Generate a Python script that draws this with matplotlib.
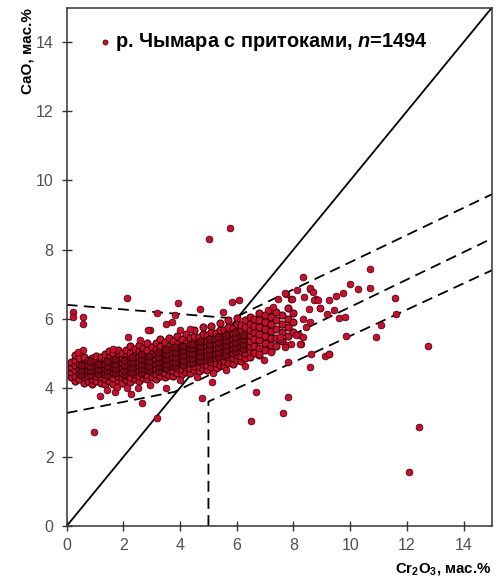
"""
Cr2O3 vs CaO in garnets, Chymara river with tributaries.
"""

import matplotlib
matplotlib.use("Agg")
import matplotlib.pyplot as plt

# =============================================================================
# Configuration
# =============================================================================
OUTPUT_FILE = "out.png"
DPI = 100
FACE = "#c8102e"
EDGE = "#3a0008"
CORE_FACE = "#7e0914"

plt.rcParams["font.family"] = ["Liberation Sans", "DejaVu Sans"]
plt.rcParams["mathtext.fontset"] = "custom"
plt.rcParams["mathtext.rm"] = "Liberation Sans:bold"
plt.rcParams["mathtext.it"] = "Liberation Sans:italic:bold"
plt.rcParams["mathtext.bf"] = "Liberation Sans:bold"

# =============================================================================
# Data
# =============================================================================
# dense cloud, one column of CaO values per Cr2O3 value
CLOUD_COL_X = [0.15, 0.3, 0.45, 0.6, 0.75, 0.9, 1.05, 1.2, 1.35, 1.5, 1.65,
               1.8, 1.95, 2.1, 2.25, 2.4, 2.55, 2.7, 2.85, 3.0, 3.15, 3.3,
               3.45, 3.6, 3.75, 3.9, 4.05, 4.2, 4.35, 4.5, 4.65, 4.8, 4.95,
               5.1, 5.25, 5.4, 5.55, 5.7, 5.85, 6.0, 6.15, 6.3, 6.45, 6.6,
               6.8, 7.0, 7.2, 7.4, 7.6, 7.8, 8.0]
CLOUD_COL_Y = [
    [4.3, 4.45, 4.6, 4.75],
    [4.2, 4.35, 4.5, 4.65, 4.8, 4.95],
    [4.25, 4.4, 4.55, 4.7, 4.85],
    [4.15, 4.3, 4.45, 4.6, 4.75, 4.9],
    [4.2, 4.35, 4.5, 4.65, 4.8],
    [4.1, 4.25, 4.4, 4.55, 4.7, 4.85],
    [4.2, 4.35, 4.5, 4.62, 4.78, 4.92],
    [4.15, 4.3, 4.45, 4.58, 4.72, 4.88],
    [4.1, 4.25, 4.4, 4.55, 4.68, 4.82, 4.98],
    [4.2, 4.34, 4.48, 4.62, 4.76, 4.9, 5.05],
    [4.12, 4.28, 4.42, 4.56, 4.7, 4.84, 5.0],
    [4.2, 4.35, 4.5, 4.64, 4.78, 4.93, 5.1],
    [4.15, 4.3, 4.44, 4.58, 4.72, 4.86, 5.02],
    [4.22, 4.36, 4.5, 4.64, 4.78, 4.92, 5.08],
    [4.18, 4.32, 4.46, 4.6, 4.74, 4.88, 5.02, 5.2],
    [4.25, 4.4, 4.54, 4.68, 4.82, 4.96, 5.12],
    [4.2, 4.34, 4.48, 4.62, 4.76, 4.9, 5.05, 5.25],
    [4.28, 4.42, 4.56, 4.7, 4.84, 4.98, 5.14],
    [4.24, 4.38, 4.52, 4.66, 4.8, 4.94, 5.08, 5.3],
    [4.3, 4.45, 4.6, 4.74, 4.88, 5.02, 5.18],
    [4.26, 4.4, 4.55, 4.7, 4.84, 4.98, 5.12, 5.3],
    [4.34, 4.48, 4.62, 4.76, 4.9, 5.05, 5.2, 5.4],
    [4.3, 4.44, 4.58, 4.72, 4.86, 5.0, 5.15, 5.32],
    [4.38, 4.52, 4.66, 4.8, 4.94, 5.08, 5.22, 5.45],
    [4.34, 4.48, 4.62, 4.76, 4.9, 5.04, 5.18, 5.34],
    [4.42, 4.56, 4.7, 4.84, 4.98, 5.12, 5.26, 5.5],
    [4.4, 4.54, 4.68, 4.82, 4.96, 5.1, 5.25, 5.4],
    [4.46, 4.6, 4.74, 4.88, 5.02, 5.16, 5.3, 5.55],
    [4.44, 4.58, 4.72, 4.86, 5.0, 5.14, 5.28, 5.44],
    [4.5, 4.64, 4.78, 4.92, 5.06, 5.2, 5.34, 5.5, 5.68],
    [4.48, 4.62, 4.76, 4.9, 5.04, 5.18, 5.32, 5.48],
    [4.55, 4.7, 4.84, 4.98, 5.12, 5.26, 5.4, 5.56, 5.75],
    [4.52, 4.66, 4.8, 4.94, 5.08, 5.22, 5.36, 5.52],
    [4.6, 4.75, 4.9, 5.04, 5.18, 5.32, 5.46, 5.62, 5.8],
    [4.58, 4.72, 4.86, 5.0, 5.14, 5.28, 5.42, 5.58],
    [4.66, 4.8, 4.95, 5.1, 5.24, 5.38, 5.52, 5.68, 5.88],
    [4.64, 4.78, 4.92, 5.06, 5.2, 5.34, 5.5, 5.66],
    [4.72, 4.88, 5.02, 5.16, 5.3, 5.44, 5.6, 5.76, 5.95],
    [4.7, 4.85, 5.0, 5.14, 5.28, 5.42, 5.58, 5.74],
    [4.8, 4.95, 5.1, 5.24, 5.38, 5.52, 5.68, 5.85, 6.02],
    [4.78, 4.92, 5.06, 5.2, 5.35, 5.5, 5.66, 5.82],
    [4.85, 5.0, 5.15, 5.3, 5.45, 5.6, 5.76, 5.95],
    [4.9, 5.05, 5.2, 5.36, 5.52, 5.68, 5.85, 6.05],
    [5.0, 5.22, 5.42, 5.6, 5.8, 6.0],
    [4.95, 5.15, 5.38, 5.55, 5.75, 5.95, 6.15],
    [5.1, 5.3, 5.5, 5.7, 5.9, 6.1],
    [5.05, 5.25, 5.45, 5.65, 5.85, 6.05, 6.25],
    [5.2, 5.45, 5.7, 5.95, 6.2],
    [5.35, 5.6, 5.85, 6.1],
    [5.5, 5.75, 6.0, 6.3],
    [5.6, 5.9, 6.15],
]

# darkest part of the cloud, where grains pile up
CORE_COL_X = [0.52, 0.82, 1.12, 1.42, 1.72, 2.02, 2.32, 2.62, 2.92, 3.22,
              3.52, 3.82, 4.12, 4.42, 4.72, 5.02, 5.32, 5.62, 5.92, 6.22]
CORE_COL_Y = [
    [4.38, 4.52, 4.66],
    [4.36, 4.5, 4.64, 4.78],
    [4.4, 4.54, 4.68],
    [4.36, 4.5, 4.64, 4.78],
    [4.42, 4.56, 4.7, 4.84],
    [4.38, 4.52, 4.66, 4.8],
    [4.45, 4.6, 4.74, 4.88],
    [4.42, 4.56, 4.7, 4.84, 4.98],
    [4.5, 4.64, 4.78, 4.92],
    [4.48, 4.62, 4.76, 4.9, 5.04],
    [4.56, 4.7, 4.84, 4.98, 5.12],
    [4.62, 4.76, 4.9, 5.04, 5.18],
    [4.66, 4.8, 4.94, 5.08, 5.22],
    [4.72, 4.86, 5.0, 5.14, 5.28],
    [4.78, 4.92, 5.06, 5.2, 5.34],
    [4.84, 4.98, 5.12, 5.26, 5.4],
    [4.9, 5.04, 5.18, 5.32, 5.46],
    [4.96, 5.1, 5.24, 5.38, 5.52],
    [5.04, 5.18, 5.32, 5.46, 5.6],
    [5.12, 5.26, 5.4, 5.54],
]

# scattered grains around the cloud
SPARSE_X = [0.21, 0.21, 0.59, 0.59, 0.41, 0.59, 1.64, 2.17, 2.58, 2.93, 2.87,
            3.52, 3.7, 3.99, 4.34, 3.81, 3.17, 3.93, 4.69, 5.51, 5.83, 6.07,
            2.11, 5.02, 5.75, 0.97, 3.17, 2.64, 1.17, 1.72, 2.26, 4.78, 5.14,
            3.5, 6.67, 6.49, 7.79, 7.63, 1.41, 1.76, 2.11, 2.52, 2.93, 3.99,
            4.58, 5.15, 5.63, 6.28, 6.96, 7.22, 6.8, 7.51, 7.75, 7.92, 8.21,
            8.27, 8.45, 8.57, 8.33, 7.1, 7.27, 7.45, 7.72, 7.9, 8.12, 8.8,
            8.92, 8.57, 8.33, 8.59, 8.68, 7.71, 8.37, 8.74, 8.86, 9.25, 9.5,
            9.74, 7.94, 8.54, 8.94, 9.42, 9.18, 9.59, 9.83, 9.86, 9.98, 10.26,
            10.7, 10.7, 11.6, 11.63, 11.09, 10.9, 8.63, 9.1, 9.27, 8.59, 7.8,
            9.27, 12.76, 12.44, 12.06, 8.1, 8.33, 8.24, 7.69, 7.51]
SPARSE_Y = [6.19, 6.05, 6.05, 5.86, 5.04, 5.09, 5.13, 5.47, 5.38, 5.66, 5.68,
            5.86, 5.9, 5.66, 5.71, 6.1, 6.17, 6.45, 6.27, 6.19, 6.47, 6.53,
            6.61, 8.32, 8.61, 2.73, 3.13, 3.55, 3.76, 3.88, 3.82, 3.71, 4.17,
            4.0, 3.88, 3.04, 3.72, 3.26, 3.93, 4.03, 3.98, 4.0, 4.08, 4.22,
            4.32, 4.42, 4.5, 4.62, 4.8, 5.04, 4.99, 5.42, 5.23, 5.28, 5.52,
            5.28, 5.76, 5.9, 6.0, 6.24, 6.34, 6.58, 6.7, 6.58, 6.82, 6.58,
            6.31, 6.87, 7.2, 6.9, 6.77, 6.73, 6.63, 6.53, 6.53, 6.53, 6.65,
            6.73, 6.56, 6.29, 6.31, 6.24, 6.13, 6.03, 6.05, 5.49, 7.01, 6.85,
            7.43, 6.9, 6.6, 6.13, 5.81, 5.47, 4.97, 4.91, 4.97, 4.59, 4.75,
            4.97, 5.2, 2.86, 1.56, 5.52, 5.47, 5.28, 5.18, 5.47]

# field boundaries
LINE_UPPER_X = [0, 5.87, 15]
LINE_UPPER_Y = [6.4, 6.01, 9.6]
LINE_MIDDLE_X = [0, 3.8, 15]
LINE_MIDDLE_Y = [3.27, 3.88, 8.32]
LINE_LOWER_X = [5, 5, 15]
LINE_LOWER_Y = [0, 3.6, 7.4]
DIAG_X = [0, 15]
DIAG_Y = [0, 15]

TICKS = [0, 2, 4, 6, 8, 10, 12, 14]
LEGEND_LABEL = "р. Чымара с притоками, $n$=1494"

# =============================================================================
# Create figure
# =============================================================================
fig = plt.figure(figsize=(4.99, 5.83), dpi=DPI)
ax = fig.add_axes([0.1337, 0.0978, 0.852, 0.889])


def expand(cols_x, cols_y):
    xs, ys = [], []
    for cx, col in zip(cols_x, cols_y):
        for cy in col:
            xs.append(cx)
            ys.append(cy)
    return xs, ys


cloud_x, cloud_y = expand(CLOUD_COL_X, CLOUD_COL_Y)
core_x, core_y = expand(CORE_COL_X, CORE_COL_Y)

dash = (0, (6, 3.5))
ax.plot(LINE_UPPER_X, LINE_UPPER_Y, color="black", lw=1.3, ls=dash, zorder=1)
ax.plot(LINE_MIDDLE_X, LINE_MIDDLE_Y, color="black", lw=1.3, ls=dash, zorder=1)
ax.plot(LINE_LOWER_X, LINE_LOWER_Y, color="black", lw=1.3, ls=dash, zorder=1)
ax.plot(DIAG_X, DIAG_Y, color="black", lw=1.3, zorder=1)

ax.scatter(cloud_x, cloud_y, s=26, c=FACE, edgecolors=EDGE, linewidths=0.75,
           zorder=2)
ax.scatter(core_x, core_y, s=26, c=CORE_FACE, edgecolors=EDGE,
           linewidths=0.75, zorder=2.5)
pts = ax.scatter(SPARSE_X, SPARSE_Y, s=24, c=FACE, edgecolors=EDGE,
                 linewidths=0.5, zorder=3)

ax.legend([pts], [LEGEND_LABEL], loc="upper left",
          bbox_to_anchor=(0.078, 0.955), frameon=False, markerscale=0.75,
          handlelength=0.55, handletextpad=0.2, borderpad=0, borderaxespad=0,
          prop={"weight": "bold", "size": 14.3})

# Styling
ax.set_xlim(0, 15)
ax.set_ylim(0, 15)
ax.set_xticks(TICKS)
ax.set_yticks(TICKS)
ax.tick_params(direction="inout", length=7, width=1.0, colors="#333333",
               labelsize=11.5, labelcolor="#505050")
ax.tick_params(axis="x", pad=5)
ax.tick_params(axis="y", pad=6)
for sp in ax.spines.values():
    sp.set_color("#333333")
    sp.set_linewidth(1.1)

ax.set_ylabel("CaO, мас.%", loc="top", fontweight="bold", fontsize=11,
              labelpad=1)
ax.set_xlabel(r"Cr$_2$O$_3$, мас.%", loc="right", fontweight="bold",
              fontsize=10.8, labelpad=6)

plt.savefig(OUTPUT_FILE, dpi=DPI)
plt.close()
